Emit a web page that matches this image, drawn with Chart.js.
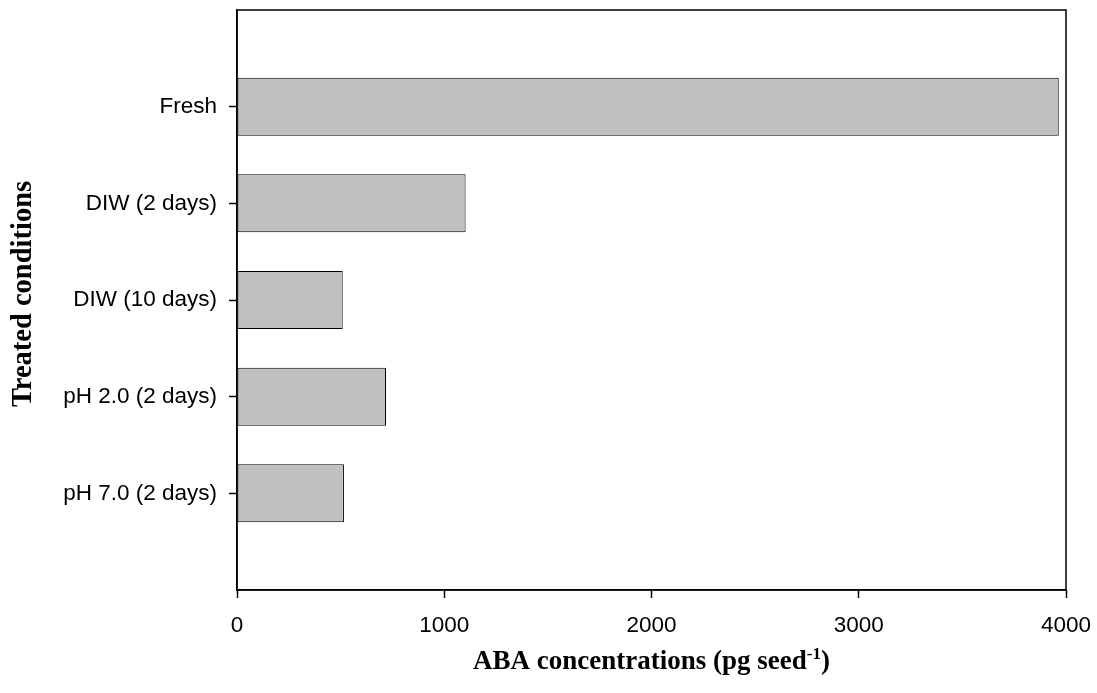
<!DOCTYPE html>
<html>
<head>
<meta charset="utf-8">
<script src="https://cdn.jsdelivr.net/npm/chart.js@4"></script>
<style>
  html, body { margin: 0; padding: 0; background: #fff; }
  #wrap { width: 1097px; height: 693px; }
</style>
</head>
<body>
<div id="wrap"><canvas id="c" width="1097" height="693"></canvas></div>
<script>
// ABA content of seeds under each treatment
const categories = ['Fresh', 'DIW (2 days)', 'DIW (10 days)', 'pH 2.0 (2 days)', 'pH 7.0 (2 days)'];
const abaValues = [3965, 1103, 510, 719, 516];
const xTicks = [0, 1000, 2000, 3000, 4000];

const xTitleMain = 'ABA concentrations (pg seed';
const xTitleSup = '-1';
const xTitleEnd = ')';
const yTitle = 'Treated conditions';

// one empty slot above and below the five bars
const labels = [''].concat(categories, ['']);
const data = [null].concat(abaValues, [null]);

const sansFont = '"Liberation Sans", Arial, sans-serif';
const serifFont = '"Liberation Serif", "Times New Roman", serif';

const frameAndTitles = {
  id: 'frameAndTitles',
  afterDatasetsDraw(chart) {
    const ctx = chart.ctx;
    const a = chart.chartArea;
    ctx.save();
    ctx.strokeStyle = '#000';
    ctx.lineWidth = 1.5;
    ctx.strokeRect(a.left, a.top, a.right - a.left, a.bottom - a.top);
    ctx.restore();
  },
  afterDraw(chart) {
    const ctx = chart.ctx;
    const a = chart.chartArea;
    ctx.save();
    ctx.fillStyle = '#000';
    // x axis title with superscript exponent
    const mainFont = 'bold 27px ' + serifFont;
    const supFont = 'bold 17px ' + serifFont;
    ctx.font = mainFont;
    const w1 = ctx.measureText(xTitleMain).width;
    const w3 = ctx.measureText(xTitleEnd).width;
    ctx.font = supFont;
    const w2 = ctx.measureText(xTitleSup).width;
    const total = w1 + w2 + w3;
    const cx = (a.left + a.right) / 2;
    const base = 669;
    let x = cx - total / 2;
    ctx.textBaseline = 'alphabetic';
    ctx.textAlign = 'left';
    ctx.font = mainFont;
    ctx.fillText(xTitleMain, x, base);
    x += w1;
    ctx.font = supFont;
    ctx.fillText(xTitleSup, x, base - 10);
    x += w2;
    ctx.font = mainFont;
    ctx.fillText(xTitleEnd, x, base);
    // y axis title, rotated
    ctx.translate(24, (a.top + a.bottom) / 2 - 6);
    ctx.rotate(-Math.PI / 2);
    ctx.textAlign = 'center';
    ctx.textBaseline = 'middle';
    ctx.font = 'bold 28.5px ' + serifFont;
    ctx.fillText(yTitle, 0, 0);
    ctx.restore();
  }
};

new Chart(document.getElementById('c'), {
  type: 'bar',
  data: {
    labels: labels,
    datasets: [{
      data: data,
      backgroundColor: '#c0c0c0',
      borderColor: '#000',
      borderWidth: 1,
      borderSkipped: false,
      barPercentage: 0.6,
      categoryPercentage: 1.0
    }]
  },
  options: {
    indexAxis: 'y',
    responsive: false,
    animation: false,
    devicePixelRatio: 1,
    layout: { padding: { top: 10, right: 31, left: 0, bottom: 0 } },
    plugins: {
      legend: { display: false },
      tooltip: { enabled: false },
      title: { display: false }
    },
    scales: {
      x: {
        type: 'linear',
        min: 0,
        max: 4000,
        afterBuildTicks(axis) {
          axis.ticks = xTicks.map(v => ({ value: v }));
        },
        afterFit(axis) {
          axis.height = 103;
          axis.paddingLeft = 0;
          axis.paddingRight = 0;
        },
        grid: {
          drawOnChartArea: false,
          drawTicks: true,
          tickLength: 8,
          tickColor: '#000',
          tickWidth: 1.5
        },
        border: { display: true, color: '#000', width: 1.5 },
        ticks: {
          color: '#000',
          font: { family: sansFont, size: 22.5 },
          padding: 14,
          maxRotation: 0,
          callback: (v) => String(v)
        }
      },
      y: {
        type: 'category',
        offset: false,
        afterFit(axis) {
          axis.width = 237;
          axis.paddingTop = 0;
          axis.paddingBottom = 0;
        },
        grid: {
          offset: false,
          drawOnChartArea: false,
          drawTicks: true,
          tickLength: 8,
          tickWidth: 1.5,
          tickColor: (c) => (c.index === 0 || c.index === labels.length - 1) ? 'rgba(0,0,0,0)' : '#000'
        },
        border: { display: true, color: '#000', width: 1.5 },
        ticks: {
          color: '#000',
          font: { family: sansFont, size: 22.5 },
          padding: 12,
          autoSkip: false
        }
      }
    }
  },
  plugins: [frameAndTitles]
});
</script>
</body>
</html>
